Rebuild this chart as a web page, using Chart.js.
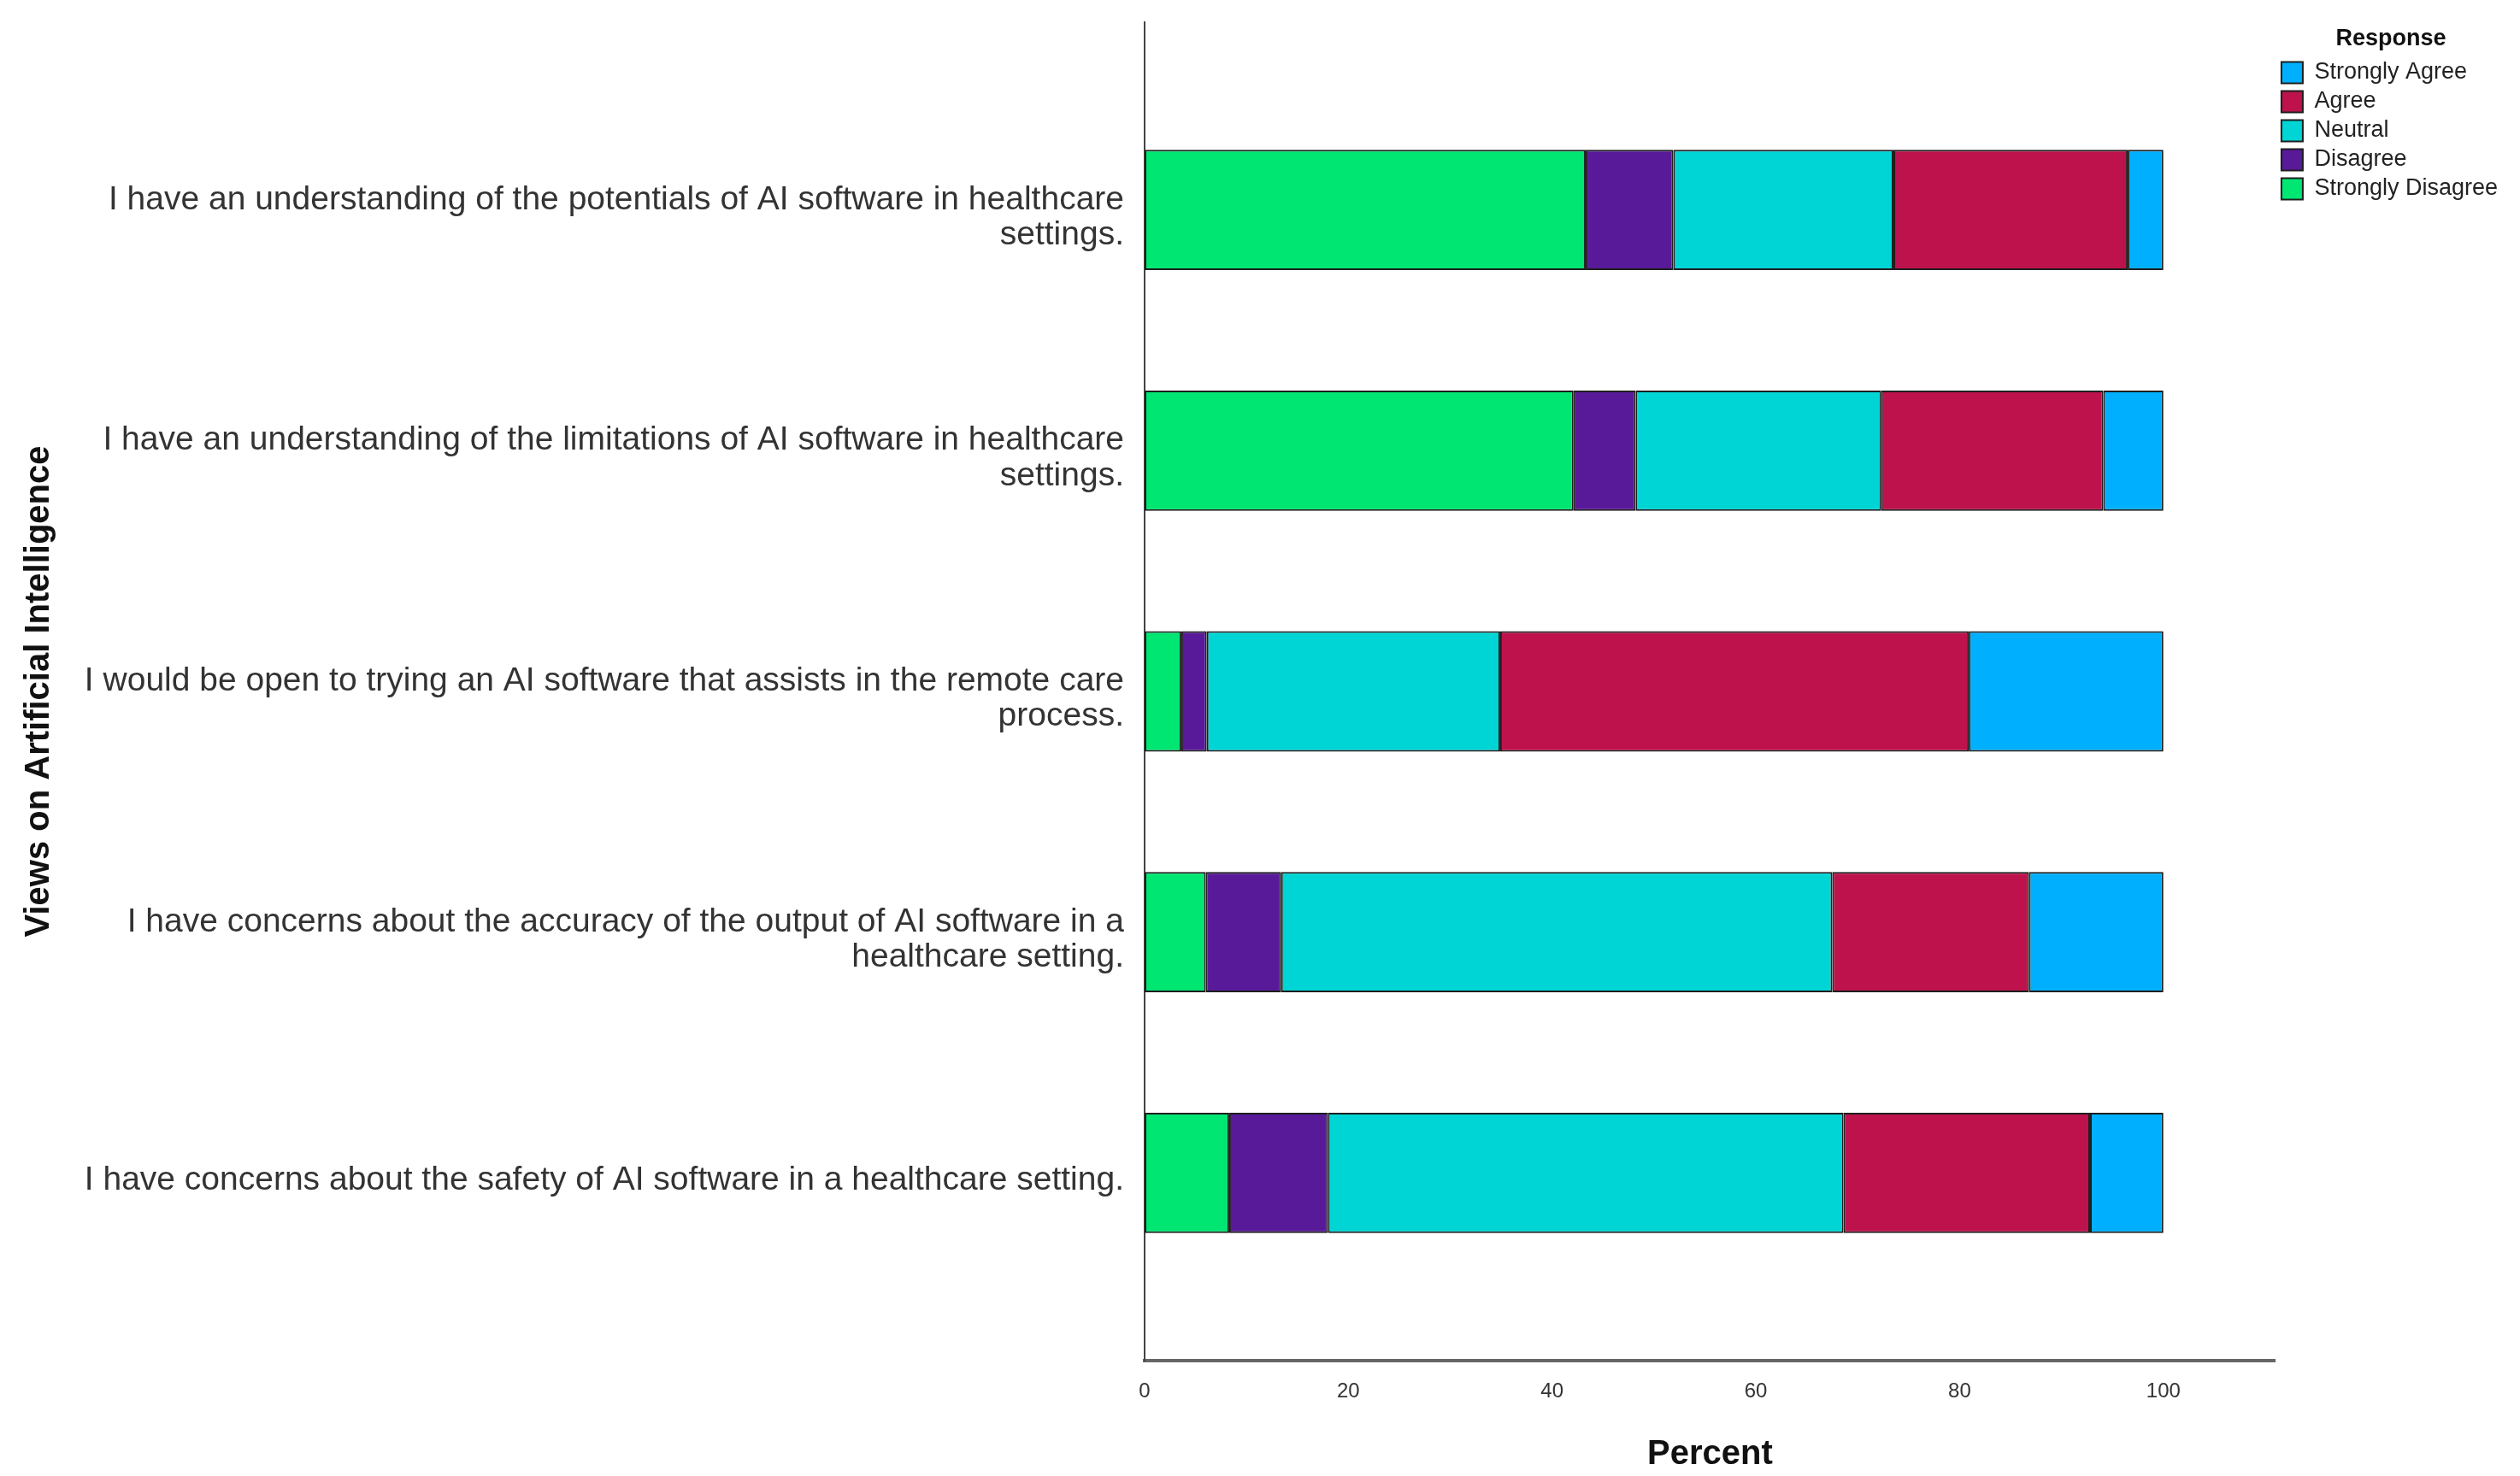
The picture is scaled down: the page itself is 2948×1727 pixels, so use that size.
<!DOCTYPE html>
<html>
<head>
<meta charset="utf-8">
<script src="https://cdn.jsdelivr.net/npm/chart.js@4.4.1/dist/chart.umd.min.js"></script>
<style>
  html, body { margin: 0; padding: 0; background: #fff; }
  #wrap { width: 2948px; height: 1727px; }
</style>
</head>
<body>
<div id="wrap"><canvas id="aiViewsChart" width="2948" height="1727"></canvas></div>
<script>
// statements, top to bottom
const categories = [
  ["I have an understanding of the potentials of AI software in healthcare", "settings."],
  ["I have an understanding of the limitations of AI software in healthcare", "settings."],
  ["I would be open to trying an AI software that assists in the remote care", "process."],
  ["I have concerns about the accuracy of the output of AI software in a", "healthcare setting."],
  ["I have concerns about the safety of AI software in a healthcare setting."],
];

// percent per response, same order as categories
const stronglyDisagree = [43.3, 42.1, 3.6, 6.0, 8.3];
const disagree = [8.6, 6.1, 2.5, 7.4, 9.7];
const neutral = [21.6, 24.1, 28.8, 54.1, 50.6];
const agree = [23.0, 21.8, 46.0, 19.3, 24.2];
const stronglyAgree = [3.5, 5.9, 19.1, 13.2, 7.2];

const xTicks = [0, 20, 40, 60, 80, 100];

const FONT = "'Liberation Sans', Arial, sans-serif";
Chart.defaults.font.family = FONT;

// bars sit on a numeric index axis so the SPSS-like margins above/below can be kept
const toPoints = (vals) => vals.map((v, i) => ({ y: i + 1, x: v }));

const series = [
  { label: "Strongly Disagree", data: stronglyDisagree, color: "#00e672" },
  { label: "Disagree", data: disagree, color: "#581a99" },
  { label: "Neutral", data: neutral, color: "#00d5d6" },
  { label: "Agree", data: agree, color: "#be124d" },
  { label: "Strongly Agree", data: stronglyAgree, color: "#00b0ff" },
];

new Chart(document.getElementById("aiViewsChart"), {
  type: "bar",
  data: {
    datasets: series.map((s) => ({
      label: s.label,
      data: toPoints(s.data),
      backgroundColor: s.color,
      borderColor: "#1e1e1e",
      borderWidth: 2,
      borderSkipped: false,
      barPercentage: 0.5,
      categoryPercentage: 1,
    })),
  },
  options: {
    indexAxis: "y",
    responsive: false,
    animation: false,
    devicePixelRatio: 1,
    layout: { padding: { left: 20, top: 26, right: 16, bottom: 0 } },
    plugins: {
      tooltip: { enabled: false },
      legend: {
        position: "right",
        align: "start",
        reverse: true,
        title: {
          display: true,
          text: "Response",
          color: "#111",
          font: { size: 27, weight: "bold" },
          padding: { top: 6, bottom: 0 },
        },
        labels: {
          boxWidth: 25,
          boxHeight: 25,
          padding: 7,
          color: "#222",
          font: { size: 27 },
        },
      },
    },
    scales: {
      x: {
        type: "linear",
        stacked: true,
        min: 0,
        max: 111,
        grid: { display: false },
        border: { display: true, color: "#666", width: 4 },
        afterBuildTicks: (scale) => {
          scale.ticks = xTicks.map((v) => ({ value: v }));
        },
        afterFit: (scale) => {
          scale.height = 135;
        },
        ticks: {
          color: "#333",
          padding: 14,
          font: { size: 24 },
        },
        title: {
          display: true,
          text: "Percent",
          color: "#111",
          font: { size: 40, weight: "bold" },
          padding: { top: 0, bottom: 1 },
        },
      },
      y: {
        type: "linear",
        stacked: true,
        reverse: true,
        offset: false,
        min: 0.22,
        max: 5.78,
        grid: { display: false },
        border: { display: true, color: "#444", width: 2 },
        afterBuildTicks: (scale) => {
          scale.ticks = categories.map((c, i) => ({ value: i + 1 }));
        },
        afterFit: (scale) => {
          scale.width = 1339 - 20;
          scale.paddingTop = 0;
          scale.paddingBottom = 0;
        },
        ticks: {
          color: "#333",
          padding: 16,
          labelOffset: 9,
          font: { size: 39, lineHeight: 1.06 },
          callback: (v) => categories[v - 1],
        },
        title: {
          display: true,
          text: "Views on Artificial Intelligence",
          color: "#111",
          font: { size: 40, weight: "bold" },
          padding: { top: 2, bottom: 0 },
        },
      },
    },
  },
});
</script>
</body>
</html>
